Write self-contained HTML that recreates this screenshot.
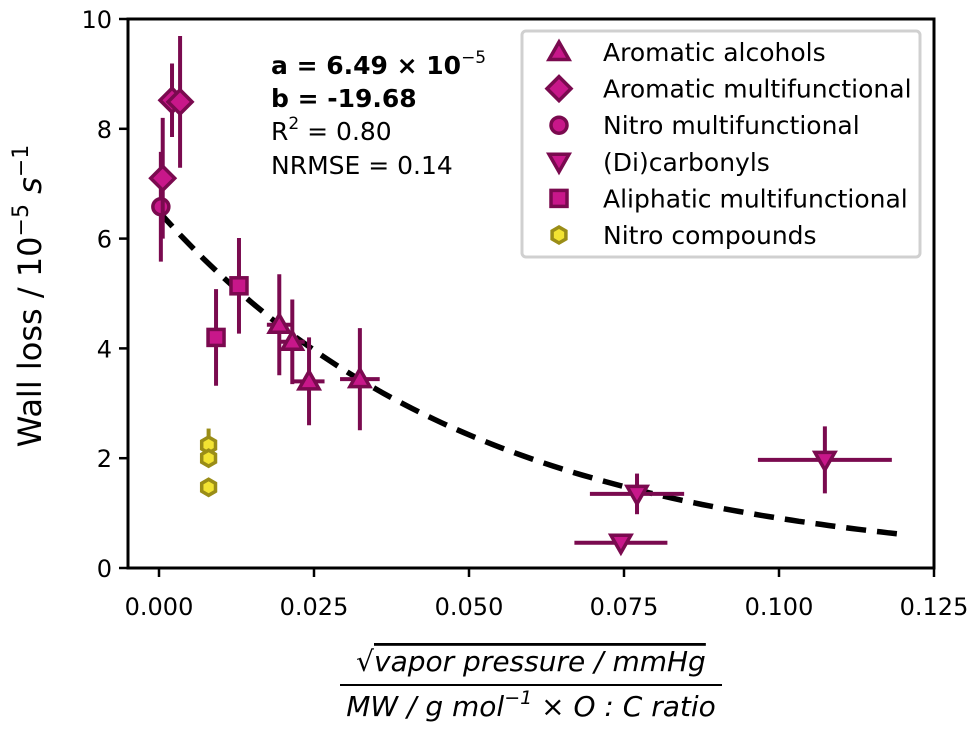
<!DOCTYPE html>
<html><head><meta charset="utf-8"><style>
body{margin:0;background:#fff;}
svg text{font-family:"DejaVu Sans","Liberation Sans",sans-serif;}
</style></head><body>
<svg id="chart" width="980" height="733" viewBox="0 0 980 733" xmlns="http://www.w3.org/2000/svg">
<rect width="980" height="733" fill="#fff"/>
<g id="marks"></g>
<rect x="128" y="19" width="806" height="549" fill="none" stroke="#000" stroke-width="3"/>
<g id="axes"></g>
<g font-size="25">
<text x="271" y="74" font-weight="bold">a = 6.49 × 10<tspan dy="-11" font-size="17" font-weight="normal">−5</tspan></text>
<text x="271" y="107" font-weight="bold">b = -19.68</text>
<text x="271" y="140">R<tspan dy="-11" font-size="17">2</tspan><tspan dy="11"> = 0.80</tspan></text>
<text x="271" y="174">NRMSE = 0.14</text>
</g>
<g>
<rect x="522" y="31" width="398" height="226" rx="4" fill="#fff" stroke="#d0d0d0" stroke-width="3"/>
<g id="legend-items" font-size="25"></g>
</g>
<text transform="translate(41,296) rotate(-90)" text-anchor="middle" font-size="32">Wall loss / 10<tspan dy="-13" font-size="22">−5</tspan><tspan dy="13"> </tspan><tspan font-style="italic">s</tspan><tspan dy="-13" font-size="22">−1</tspan></text>
<g font-size="28" font-style="italic" text-anchor="middle">
<text x="531" y="671">√<tspan text-decoration="overline">vapor pressure / mmHg</tspan></text>
<line x1="340" y1="685" x2="722" y2="685" stroke="#000" stroke-width="2"/>
<text x="531" y="716">MW / g mol<tspan dy="-12" font-size="19">−1</tspan><tspan dy="12"> × O : C ratio</tspan></text>
</g>
</svg>
<script>
const xTicks=[0,0.025,0.05,0.075,0.1,0.125];
const xTickLabels=["0.000","0.025","0.050","0.075","0.100","0.125"];
const yTicks=[0,2,4,6,8,10];
const fitA=6.49, fitB=-19.68;
const alcX=[0.0194,0.0215,0.0242,0.0324], alcY=[4.43,4.12,3.40,3.44], alcXe=[0.002,0.002,0.0025,0.0032], alcYe=[0.92,0.77,0.8,0.93];
const amfX=[0.0021,0.0034,0.0006], amfY=[8.52,8.49,7.10], amfYe=[0.67,1.2,1.1];
const nmfX=[0.0003], nmfY=[6.58], nmfYe=[1.0];
const dcX=[0.0771,0.0745,0.1074], dcY=[1.35,0.46,1.97], dcXe=[0.0076,0.0075,0.0108], dcYe=[0.37,0,0.61];
const alX=[0.0092,0.0129], alY=[4.20,5.14], alYe=[0.88,0.87];
const ncX=[0.008,0.008,0.008], ncY=[2.24,2.0,1.47], ncYe=[0.3,0,0];
const legendLabels=["Aromatic alcohols","Aromatic multifunctional","Nitro multifunctional","(Di)carbonyls","Aliphatic multifunctional","Nitro compounds"];

const NS="http://www.w3.org/2000/svg";
const X0=128,X1=934,Y0=568,Y1=19,xmin=-0.005,xmax=0.125,ymin=0,ymax=10;
const sx=v=>X0+(v-xmin)/(xmax-xmin)*(X1-X0);
const sy=v=>Y0-(v-ymin)/(ymax-ymin)*(Y0-Y1);
function mk(tag,attrs,parent){const e=document.createElementNS(NS,tag);for(const k in attrs)e.setAttribute(k,attrs[k]);parent.appendChild(e);return e;}
const axes=document.getElementById('axes'), marks=document.getElementById('marks');
xTicks.forEach((t,i)=>{
 const l=mk('line',{x1:sx(t),x2:sx(t),y1:Y0,y2:Y0+9,stroke:'#000','stroke-width':2.5},axes);
 
 
 const tx=mk('text',{x:sx(t),y:Y0+47,'text-anchor':'middle','font-size':24},axes);tx.textContent=xTickLabels[i];
 
 
});
yTicks.forEach(t=>{
 const l=mk('line',{x1:X0-9,x2:X0,y1:sy(t),y2:sy(t),stroke:'#000','stroke-width':2.5},axes);
 
 
 const tx=mk('text',{x:X0-16,y:sy(t)+9,'text-anchor':'end','font-size':24},axes);tx.textContent=String(t);
 
 
});
let d='';for(let i=0;i<=100;i++){const x=0.12*i/100;const y=fitA*Math.exp(fitB*x);d+=(i?'L':'M')+sx(x).toFixed(1)+','+sy(y).toFixed(1);}
const fc=mk('path',{d:d,fill:'none',stroke:'#000','stroke-width':5.5,'stroke-dasharray':'20,11'},marks);


const FILL='#c8178a',EDGE='#7a0a4f',HF='#f2e332',HE='#9a8d17';
function marker(shape,cx,cy,parent,fill,edge){
 const s=10;let e;
 if(shape==='tri')e=mk('polygon',{points:`${cx},${cy-s} ${cx-s},${cy+s*0.75} ${cx+s},${cy+s*0.75}`},parent);
 else if(shape==='dtri')e=mk('polygon',{points:`${cx},${cy+s} ${cx-s},${cy-s*0.75} ${cx+s},${cy-s*0.75}`},parent);
 else if(shape==='dia')e=mk('polygon',{points:`${cx},${cy-12} ${cx+12},${cy} ${cx},${cy+12} ${cx-12},${cy}`},parent);
 else if(shape==='circ')e=mk('circle',{cx:cx,cy:cy,r:8},parent);
 else if(shape==='sq')e=mk('rect',{x:cx-8,y:cy-8,width:16,height:16},parent);
 else{let p=[];for(let k=0;k<6;k++){const a=Math.PI/3*k+Math.PI/6;p.push((cx+8*Math.cos(a)).toFixed(1)+','+(cy+8*Math.sin(a)).toFixed(1));}e=mk('polygon',{points:p.join(' ')},parent);}
 e.setAttribute('fill',fill);e.setAttribute('stroke',edge);e.setAttribute('stroke-width',3.5);
 return e;
}
function series(name,shape,xs,ys,xe,ye,fill,edge,ecol){
 const g=mk('g',{},marks);
 
 
 xs.forEach((x,i)=>{
  const cx=sx(x),cy=sy(ys[i]);
  if(ye&&ye[i]){const l=mk('line',{x1:cx,x2:cx,y1:sy(ys[i]+ye[i]),y2:sy(ys[i]-ye[i]),stroke:ecol,'stroke-width':4},g);
   
   }
  if(xe&&xe[i]){const l=mk('line',{x1:sx(x-xe[i]),x2:sx(x+xe[i]),y1:cy,y2:cy,stroke:ecol,'stroke-width':4},g);
   
   }
  const m=marker(shape,cx,cy,g,fill,edge);
  
  
 });
}
series('nitro-compounds','hex',ncX,ncY,null,ncYe,HF,HE,HE);
series('aliphatic-multifunctional','sq',alX,alY,null,alYe,FILL,EDGE,EDGE);
series('aromatic-alcohols','tri',alcX,alcY,alcXe,alcYe,FILL,EDGE,EDGE);
series('dicarbonyls','dtri',dcX,dcY,dcXe,dcYe,FILL,EDGE,EDGE);
series('nitro-multifunctional','circ',nmfX,nmfY,null,nmfYe,FILL,EDGE,EDGE);
series('aromatic-multifunctional','dia',amfX,amfY,null,amfYe,FILL,EDGE,EDGE);
const li=document.getElementById('legend-items');
const shapes=['tri','dia','circ','dtri','sq','hex'];
legendLabels.forEach((lab,i)=>{
 const y=52+i*36.6;
 const g=mk('g',{},li);
 
 
 marker(shapes[i],559,y,g,i===5?HF:FILL,i===5?HE:EDGE);
 const t=mk('text',{x:603,y:y+9},g);t.textContent=lab;
});
</script>
</body></html>
